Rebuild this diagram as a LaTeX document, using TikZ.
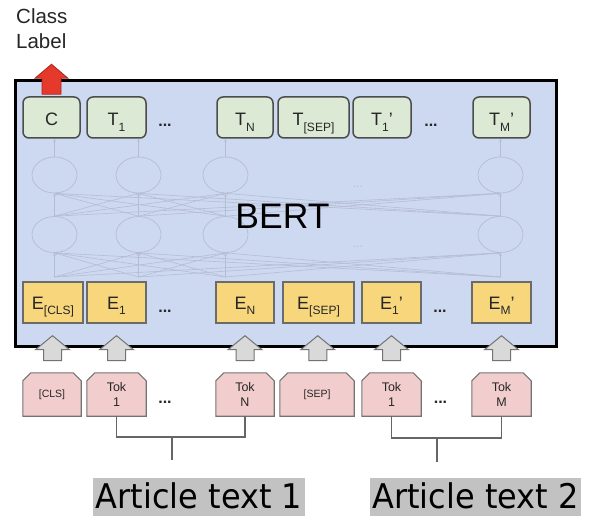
\documentclass[tikz,border=0pt]{standalone}
\usepackage{fontspec}
\setmainfont{Liberation Sans}
\newfontfamily\captionfont{DejaVu Sans}[FakeStretch=0.94]
\usetikzlibrary{calc,shapes.geometric,arrows.meta}
\pgfdeclarelayer{bottom}
\pgfdeclarelayer{background}
\pgfsetlayers{bottom,background,main}

\definecolor{panelfill}{HTML}{CDD9F1}
\definecolor{tgreen}{HTML}{DCE9D4}
\definecolor{eyellow}{HTML}{F7D67C}
\definecolor{tokpink}{HTML}{F2CDCD}
\definecolor{faint}{HTML}{B5BDD2}
\definecolor{arrowred}{HTML}{E5392B}
\definecolor{arrowredline}{HTML}{A8261C}
\definecolor{greyarrow}{HTML}{D9D9D9}
\definecolor{highlight}{HTML}{C2C2C2}
\definecolor{ink}{HTML}{262626}

% lowered index used in the token labels
\newcommand{\lowsub}[1]{\raisebox{-5.5pt}{\fontsize{12}{12}\selectfont #1}}

\begin{document}
\begin{tikzpicture}[x=1pt,y=-1pt,
  panel/.style={draw=black,line width=2.8pt,fill=panelfill,inner sep=0pt},
  tbox/.style={draw=black!70,fill=tgreen,line width=1.5pt,rounded corners=6pt,
    minimum height=41pt,inner sep=0pt,text height=17pt,text depth=0pt,text=ink,
    font=\fontsize{18}{18}\selectfont},
  ebox/.style={draw=black!58,fill=eyellow,line width=1.2pt,
    minimum height=41pt,inner sep=0pt,text height=13.5pt,text depth=0pt,text=ink,
    font=\fontsize{18}{18}\selectfont},
  tokbox/.style={minimum height=43pt,inner sep=0pt,align=center,text=ink,
    font=\fontsize{12.5}{15}\selectfont},
  tokshape/.style={draw=black!55,fill=tokpink,line width=1.1pt},
  neuron/.style={ellipse,draw=faint,line width=0.7pt,minimum width=45pt,minimum height=36pt},
  wire/.style={draw=faint,line width=0.6pt,-{Stealth[length=3pt,width=2.6pt]}},
  dotsnode/.style={anchor=base,inner sep=0pt,text=ink,font=\bfseries\fontsize{16}{16}\selectfont},
  faintdots/.style={text=faint,inner sep=0pt,font=\fontsize{12}{12}\selectfont},
  bracket/.style={draw=black!60,line width=1.2pt},
  caption/.style={fill=highlight,anchor=north,inner xsep=2.5pt,inner ysep=0pt,
    text height=30.5pt,text depth=7.5pt,font=\captionfont\fontsize{34}{34}\selectfont},
  outlabel/.style={anchor=base west,inner sep=0pt,text=ink},
  greyup/.pic={\draw[fill=greyarrow,draw=black!55,line width=1pt]
    (0,-12.5) -- (17,1.5) -- (9,1.5) -- (9,12.5) -- (-9,12.5) -- (-9,1.5) -- (-17,1.5) -- cycle;},
  redup/.pic={\draw[fill=arrowred,draw=arrowredline,line width=0.8pt]
    (-9.5,-2) -- (-9.5,-18) -- (-16.5,-18) -- (0,-32) -- (16.5,-18) -- (9.5,-18) -- (9.5,-2) -- cycle;}
]
\useasboundingbox (0,0) rectangle (594,516);
\begin{pgfonlayer}{bottom}
  \fill[white] (0,0) rectangle (594,516);
\end{pgfonlayer}

% output label
\node[outlabel] (cls1) at (16,24) {\fontsize{20.5}{24}\selectfont Class};
\node[outlabel] (cls2) at (16,49) {\fontsize{20.5}{24}\selectfont Label};

% encoder panel
\node[panel,anchor=north west,minimum width=541pt,minimum height=266pt] (bert) at (14,79) {};

% hidden layers of the encoder
\foreach \i/\x in {1/54.5,2/138.5,3/225.5,4/500.5}{
  \node[neuron] (u\i) at (\x,175) {};
  \node[neuron] (l\i) at (\x,234.5) {};
  \coordinate (b\i) at (\x,277);
}
\foreach \i in {1,...,4}{
  \foreach \j in {1,...,4}{
    \draw[wire] (l\i.north) -- (u\j.south);
    \draw[wire] (b\i) -- (l\j.south);
  }
}
\node[faintdots] (fd1) at (358,187) {...};
\node[faintdots] (fd2) at (358,247) {...};

\node[anchor=base,inner sep=0pt,text=black,font=\fontsize{35.5}{36}\selectfont] (title) at (282.5,228) {BERT};

% output tokens
\node[tbox,minimum width=57pt] (c)  at (51.5,117.5) {C};
\node[tbox,minimum width=59pt] (t1) at (116.5,117.5) {T\lowsub{1}};
\node[tbox,minimum width=56pt] (tn) at (245,117.5) {T\lowsub{N}};
\node[tbox,minimum width=71pt] (ts) at (313.5,117.5) {T\lowsub{[SEP]}};
\node[tbox,minimum width=58pt] (tb) at (382,117.5) {T\lowsub{1}'};
\node[tbox,minimum width=57pt] (tm) at (501.5,117.5) {T\lowsub{M}'};
\node[dotsnode] (td1) at (165,127) {...};
\node[dotsnode] (td2) at (431,127) {...};

\draw[wire] (u1.north) -- (u1.north |- c.south);
\draw[wire] (u2.north) -- (u2.north |- t1.south);
\draw[wire] (u3.north) -- (u3.north |- tn.south);
\draw[wire] (u4.north) -- (u4.north |- tm.south);

% input embeddings
\node[ebox,minimum width=60pt] (e0) at (53,302.5) {E\lowsub{[CLS]}};
\node[ebox,minimum width=59pt] (e1) at (116.5,302.5) {E\lowsub{1}};
\node[ebox,minimum width=58pt] (en) at (245,302.5) {E\lowsub{N}};
\node[ebox,minimum width=71pt] (es) at (318.5,302.5) {E\lowsub{[SEP]}};
\node[ebox,minimum width=59pt] (eb) at (391.5,302.5) {E\lowsub{1}'};
\node[ebox,minimum width=59pt] (em) at (501.5,302.5) {E\lowsub{M}'};
\node[dotsnode] (ed1) at (165,312) {...};
\node[dotsnode] (ed2) at (440,312) {...};

% input tokens
\node[tokbox,minimum width=58pt] (k0) at (52,394.5) {\fontsize{10.5}{12}\selectfont [CLS]};
\node[tokbox,minimum width=59pt] (k1) at (116.5,394.5) {Tok\\1};
\node[tokbox,minimum width=58pt] (kn) at (245,394.5) {Tok\\N};
\node[tokbox,minimum width=74pt] (ks) at (317,394.5) {\fontsize{10.5}{12}\selectfont [SEP]};
\node[tokbox,minimum width=59pt] (kb) at (391.5,394.5) {Tok\\1};
\node[tokbox,minimum width=59pt] (km) at (501.5,394.5) {Tok\\M};
\node[dotsnode] (kd1) at (165,403) {...};
\node[dotsnode] (kd2) at (440.5,403) {...};
\begin{pgfonlayer}{background}
  \foreach \n in {k0,k1,kn,ks,kb,km}
    \draw[tokshape] (\n.south west) -- ($(\n.north west)+(0,8)$) -- ($(\n.north west)+(8,0)$)
      -- ($(\n.north east)+(-8,0)$) -- ($(\n.north east)+(0,8)$) -- (\n.south east) -- cycle;
\end{pgfonlayer}

% embedding arrows
\foreach \e/\k in {e0/k0,e1/k1,en/kn,es/ks,eb/kb,em/km}
  \pic at ($(\e.south)!0.5!(\k.north)$) {greyup};

% classification output
\pic at (c.north) {redup};

% segment brackets
\coordinate (j1) at (172,437);
\coordinate (s1) at (172,460);
\coordinate (j2) at (437,438);
\coordinate (s2) at (437,462);
\draw[bracket] (k1.south) |- (j1) -| (kn.south);
\draw[bracket] (j1) -- (s1);
\draw[bracket] (kb.south) |- (j2) -| (km.south);
\draw[bracket] (j2) -- (s2);

% segment captions
\node[caption] (art1) at (199,478) {Article text 1};
\node[caption] (art2) at (475.5,478) {Article text 2};
\end{tikzpicture}
\end{document}
